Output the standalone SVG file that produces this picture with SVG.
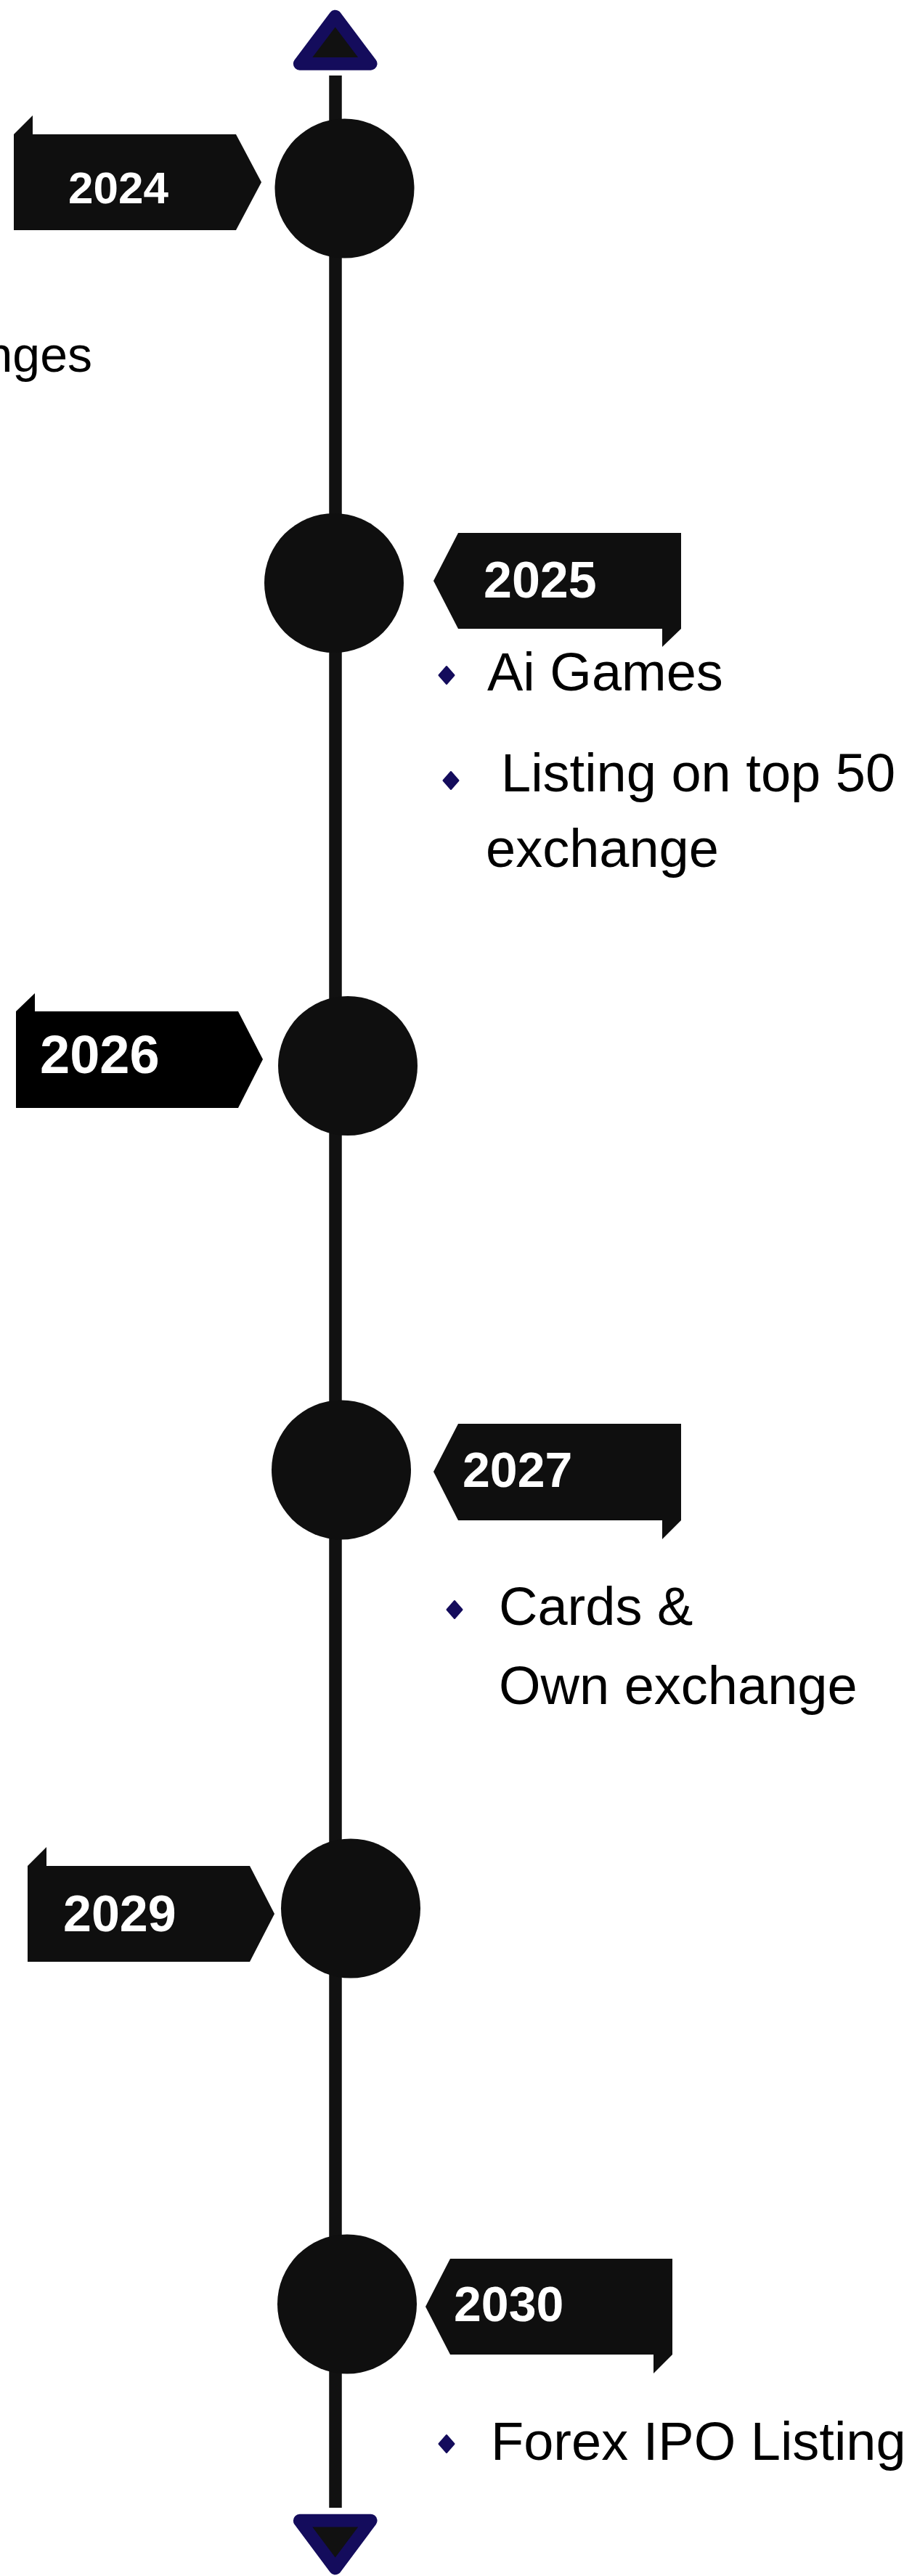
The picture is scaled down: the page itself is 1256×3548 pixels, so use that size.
<svg xmlns="http://www.w3.org/2000/svg" width="1256" height="3548" viewBox="0 0 1256 3548">
<style>
.bg{fill:#ffffff}
.line{stroke:#111111;stroke-width:17.5;fill:none}
.arrow{fill:#111111;stroke:#140c5c;stroke-width:17.7;stroke-linejoin:round}
.dot{fill:#0f0f0f}
.tag{fill:#0f0f0f}
.fold{fill:#0f0f0f}
.year{font-family:"Liberation Sans",Arial,sans-serif;font-weight:bold;fill:#ffffff}
.item{font-family:"Liberation Sans",Arial,sans-serif;font-size:74px;fill:#000000}
.bullet{fill:#140c5c;stroke:#140c5c;stroke-width:2;stroke-linejoin:round}
</style>
<defs>
<polygon id="dia" points="0,-12 10.5,0 0,12 -10.5,0"/>
</defs>
<rect class="bg" x="0" y="0" width="1256" height="3548"/>
<g id="connectors">
<line class="line" x1="462" y1="104" x2="462" y2="3454"/>
<polygon class="arrow" points="461.7,22.6 510.7,87.8 412.7,87.8"/>
<polygon class="arrow" points="461.7,3537.4 510.7,3471.7 412.7,3471.7"/>
</g>
<g id="node-2024">
<circle class="dot" cx="474.5" cy="259.5" r="96"/>
<polygon class="tag" points="19,185 325,185 360,251 325,317 19,317"/>
<polygon class="fold" points="19,185 45,159 45,185"/>
<text class="year" x="94" y="280" font-size="62">2024</text>
<text class="item" x="127" y="512" text-anchor="end" style="font-size:68px">nges</text>
</g>
<g id="node-2025">
<circle class="dot" cx="460" cy="803" r="96"/>
<polygon class="tag" points="597,800 631,734 938,734 938,866 631,866"/>
<polygon class="fold" points="912,866 938,866 912,891"/>
<text class="year" x="666" y="823" font-size="70">2025</text>
<use href="#dia" class="bullet" x="615" y="930"/>
<text class="item" x="671" y="951">Ai Games</text>
<use href="#dia" class="bullet" x="621" y="1075"/>
<text class="item" x="690" y="1090">Listing on top 50</text>
<text class="item" x="669" y="1194">exchange</text>
</g>
<g id="node-2026">
<circle class="dot" cx="479" cy="1468" r="96"/>
<polygon points="22,1393 328,1393 362,1459 328,1526 22,1526" fill="#000000"/>
<polygon points="22,1393 48,1368 48,1393" fill="#000000"/>
<text class="year" x="55" y="1478" font-size="74">2026</text>
</g>
<g id="node-2027">
<circle class="dot" cx="470" cy="2024.5" r="96"/>
<polygon class="tag" points="597,2027 631,1961 938,1961 938,2094 631,2094"/>
<polygon class="fold" points="912,2094 938,2094 912,2120"/>
<text class="year" x="637" y="2048" font-size="68">2027</text>
<use href="#dia" class="bullet" x="626" y="2217"/>
<text class="item" x="687" y="2238">Cards &amp;</text>
<text class="item" x="687" y="2347">Own exchange</text>
</g>
<g id="node-2029">
<circle class="dot" cx="483" cy="2628.5" r="96"/>
<polygon class="tag" points="38,2570 344,2570 378,2636 344,2702 38,2702"/>
<polygon class="fold" points="38,2570 64,2544 64,2570"/>
<text class="year" x="87" y="2660" font-size="70">2029</text>
</g>
<g id="node-2030">
<circle class="dot" cx="478" cy="3173.5" r="96"/>
<polygon class="tag" points="586,3177 620,3111 926,3111 926,3243 620,3243"/>
<polygon class="fold" points="900,3243 926,3243 900,3269"/>
<text class="year" x="625" y="3197" font-size="68">2030</text>
<use href="#dia" class="bullet" x="615" y="3366"/>
<text class="item" x="676" y="3388">Forex IPO Listing</text>
</g>
</svg>
